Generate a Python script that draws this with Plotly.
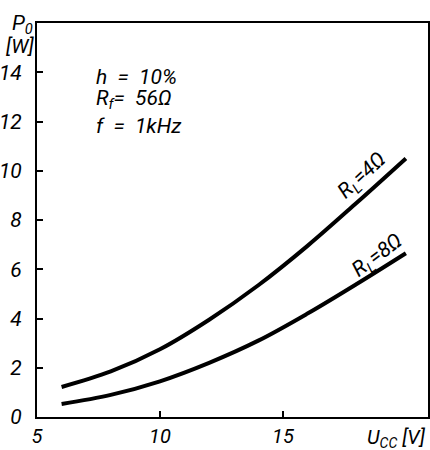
import plotly.graph_objects as go

# Supply voltage U_CC [V]
u_cc = [6, 8, 10, 12, 14, 16, 18, 20]
# Output power P_o [W]
p_4ohm = [1.22, 1.85, 2.75, 3.95, 5.35, 6.95, 8.7, 10.5]
p_8ohm = [0.53, 0.9, 1.45, 2.2, 3.1, 4.2, 5.4, 6.65]

x_ticks = [5, 10, 15]
y_ticks = [0, 2, 4, 6, 8, 10, 12, 14]

FONT = "Roboto, Liberation Sans Narrow, DejaVu Sans Condensed, sans-serif"
ytickfont = dict(family=FONT, size=21, color="black", style="italic")
xtickfont = dict(family=FONT, size=20, color="black", style="italic")

fig = go.Figure()
for p in (p_4ohm, p_8ohm):
    fig.add_trace(go.Scatter(x=u_cc, y=p, mode="lines",
                             line=dict(color="black", width=4, shape="spline"),
                             showlegend=False, hoverinfo="skip"))

fig.update_layout(
    width=430, height=450,
    margin=dict(l=37, r=2, t=23, b=33, autoexpand=False),
    paper_bgcolor="white", plot_bgcolor="white",
    xaxis=dict(range=[5, 20.9], tickvals=x_ticks, ticktext=[str(v) for v in x_ticks],
               ticks="inside", ticklen=6, tickwidth=2, tickcolor="black",
               showline=True, linewidth=2, linecolor="black", mirror=True, automargin=False,
               showgrid=False, zeroline=False, tickfont=xtickfont, ticklabelstandoff=0),
    yaxis=dict(range=[0, 16], tickvals=y_ticks, ticktext=[str(v) for v in y_ticks],
               ticks="inside", ticklen=6, tickwidth=2, tickcolor="black",
               showline=True, linewidth=2, linecolor="black", mirror=True, automargin=False,
               showgrid=False, zeroline=False, tickfont=ytickfont, ticklabelstandoff=9),
)

ann_font = dict(family=FONT, size=21, color="black", style="italic")
anns = [
    dict(x=-0.068, y=0.995, xref="paper", yref="paper", text="P<sub>0</sub>",
         xanchor="left", yanchor="middle"),
    dict(x=-0.085, y=0.942, xref="paper", yref="paper", text="[W]",
         xanchor="left", yanchor="middle", font_size=20),
    dict(x=1.0, y=-0.014, xref="paper", yref="paper", text="U<sub>CC</sub> [V]",
         xanchor="right", yanchor="top", font_size=20),
    dict(x=7.3, y=13.82, xref="x", yref="y", text="h  =  10%", xanchor="left", yanchor="middle"),
    dict(x=7.3, y=12.89, xref="x", yref="y", text="R<sub>f</sub>=  56Ω", xanchor="left", yanchor="middle"),
    dict(x=7.3, y=11.83, xref="x", yref="y", text="f  =  1kHz", xanchor="left", yanchor="middle"),
    dict(x=18.22, y=9.78, xref="x", yref="y", text="R<sub>L</sub>=4Ω", textangle=-43,
         xanchor="center", yanchor="middle"),
    dict(x=18.85, y=6.5, xref="x", yref="y", text="R<sub>L</sub>=8Ω", textangle=-37,
         xanchor="center", yanchor="middle"),
]
for a in anns:
    a["showarrow"] = False
    f = dict(ann_font)
    if "font_size" in a:
        f["size"] = a.pop("font_size")
    a["font"] = f
fig.update_layout(annotations=anns)

# remove the browser's default 8px body margin so the 430x450 figure fills the window
fig.write_html("out.html", config={"displayModeBar": False},
               post_script="document.body.style.margin='0';")
